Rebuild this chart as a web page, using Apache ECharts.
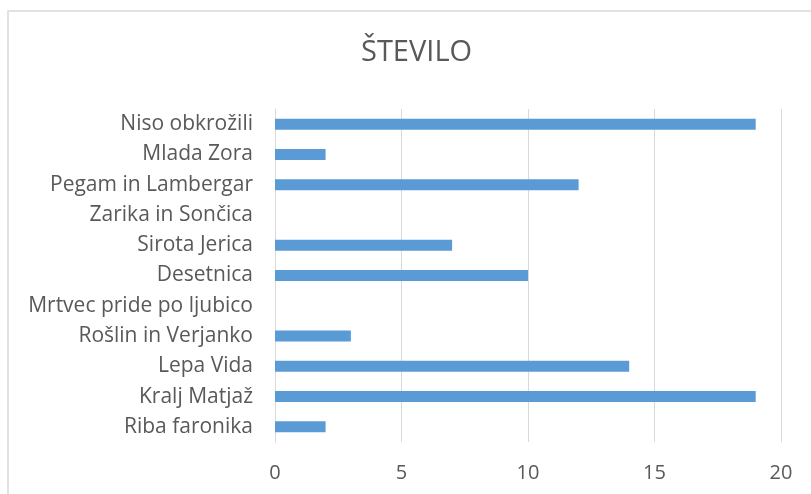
<!DOCTYPE html>
<html>
<head>
<meta charset="utf-8">
<script src="https://cdn.jsdelivr.net/npm/echarts@6/dist/echarts.min.js"></script>
<style>
  html, body { margin: 0; padding: 0; background: #fff; }
  #chart { width: 811px; height: 494px; }
</style>
</head>
<body>
<div id="chart"></div>
<script>
// categories listed bottom to top (as the category axis draws them)
const categories = [
  'Riba faronika', 'Kralj Matjaž', 'Lepa Vida', 'Rošlin in Verjanko',
  'Mrtvec pride po ljubico', 'Desetnica', 'Sirota Jerica',
  'Zarika in Sončica', 'Pegam in Lambergar', 'Mlada Zora', 'Niso obkrožili'
]
const stevilo = [2, 19, 14, 3, 0, 10, 7, 0, 12, 2, 19]
const xTicks = [0, 5, 10, 15, 20]

const myChart = echarts.init(document.getElementById('chart'))
const font = 'Open Sans'

const option = {
  animation: false,
  backgroundColor: '#fff',
  title: {
    text: 'ŠTEVILO',
    left: 356,
    top: 33,
    textStyle: { fontFamily: font, fontSize: 29, fontWeight: 'normal', color: '#595959' }
  },
  graphic: [{
    type: 'rect',
    shape: { x: 8, y: 11, width: 830, height: 520 },
    style: { fill: 'none', stroke: '#d9d9d9', lineWidth: 1.5 },
    silent: true
  }],
  grid: { left: 275, right: 30, top: 109, bottom: 52 },
  xAxis: {
    type: 'value',
    min: xTicks[0],
    max: xTicks[xTicks.length - 1],
    interval: 5,
    axisLine: { show: false },
    axisTick: { show: false },
    splitLine: { lineStyle: { color: '#d9d9d9', width: 1 } },
    axisLabel: { fontFamily: font, fontSize: 20, color: '#595959', margin: 21 }
  },
  yAxis: {
    type: 'category',
    data: categories,
    axisLine: { lineStyle: { color: '#d9d9d9' } },
    axisTick: { show: false },
    axisLabel: { fontFamily: font, fontSize: 21, color: '#595959', margin: 22 }
  },
  series: [{
    name: 'ŠTEVILO',
    type: 'bar',
    data: stevilo,
    barWidth: 11,
    itemStyle: { color: '#5b9bd5' }
  }]
}

myChart.setOption(option)
</script>
</body>
</html>
